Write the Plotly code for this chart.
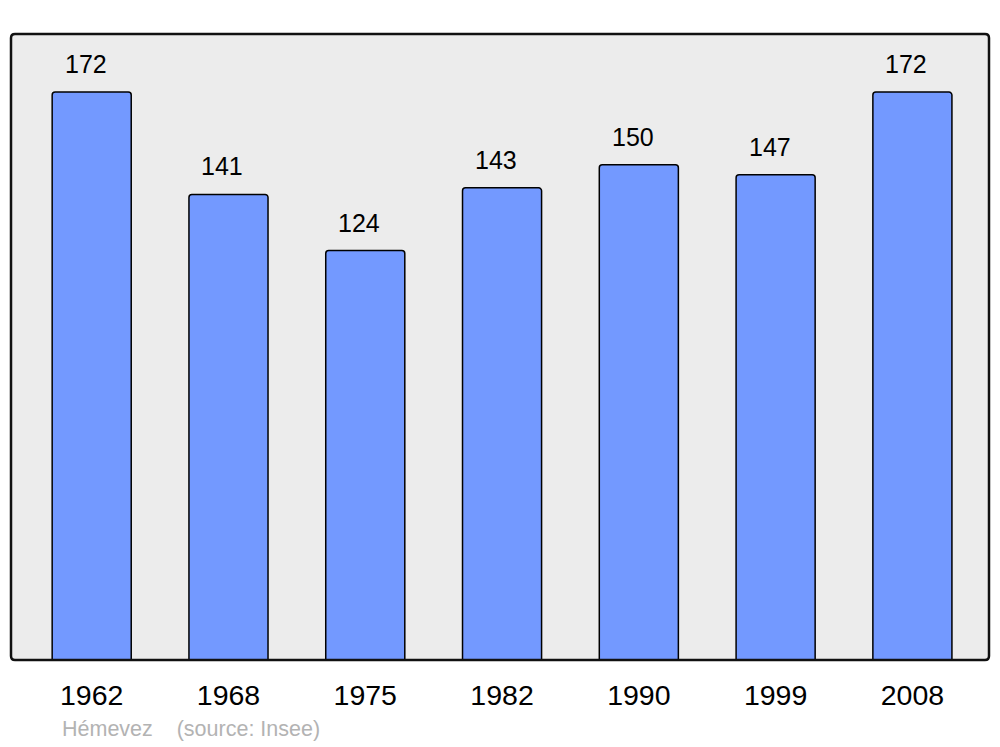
import plotly.graph_objects as go

years = ["1962", "1968", "1975", "1982", "1990", "1999", "2008"]
population = [172, 141, 124, 143, 150, 147, 172]
footer_text = "Hémevez    (source: Insee)"

W, H = 1000, 747
L, R, T, B = 11, 11, 34, 87
pw, ph = W - L - R, H - T - B
FONT = "Liberation Sans, Arial"

fig = go.Figure()
fig.add_trace(go.Bar(
    x=list(range(len(years))), y=population,
    width=0.578,
    marker=dict(color="#7399ff", line=dict(color="#000000", width=1.5), cornerradius=3),
    hoverinfo="skip",
))

for i, v in enumerate(population):
    fig.add_annotation(x=i, y=v, xref="x", yref="y", text=str(v), showarrow=False,
                       yanchor="middle", yshift=28, xshift=-6,
                       font=dict(family=FONT, size=25, color="#000000"))

fig.add_annotation(x=(60 - L) / pw, y=-(729 - (H - B)) / ph, xref="paper", yref="paper",
                   text=footer_text, showarrow=False, xanchor="left", yanchor="middle",
                   font=dict(family=FONT, size=21.5, color="#b3b3b3"))

# rounded frame
rx, ry = 4 / pw, 4 / ph
path = (f"M {rx},0 L {1-rx},0 Q 1,0 1,{ry} L 1,{1-ry} Q 1,1 {1-rx},1 "
        f"L {rx},1 Q 0,1 0,{1-ry} L 0,{ry} Q 0,0 {rx},0 Z")
fig.add_shape(type="path", path=path, xref="paper", yref="paper",
              line=dict(color="#111111", width=2.5), layer="above")

fig.update_layout(
    width=W, height=H,
    margin=dict(l=L, r=R, t=T, b=B, pad=0),
    paper_bgcolor="#ffffff", plot_bgcolor="#ececec",
    showlegend=False,
    xaxis=dict(range=[-0.59, 6.56], tickmode="array", tickvals=list(range(len(years))),
               ticktext=years, showgrid=False, zeroline=False, showline=False, ticks="",
               ticklabelstandoff=15,
               tickfont=dict(family=FONT, size=28.5, color="#000000"),
               fixedrange=True),
    yaxis=dict(range=[0, 189.6], showgrid=False, zeroline=False, showline=False,
               showticklabels=False, ticks="", fixedrange=True),
)

fig.write_html("out.html", config={"displayModeBar": False},
               post_script="document.body.style.margin='0';document.body.style.overflow='hidden';")
